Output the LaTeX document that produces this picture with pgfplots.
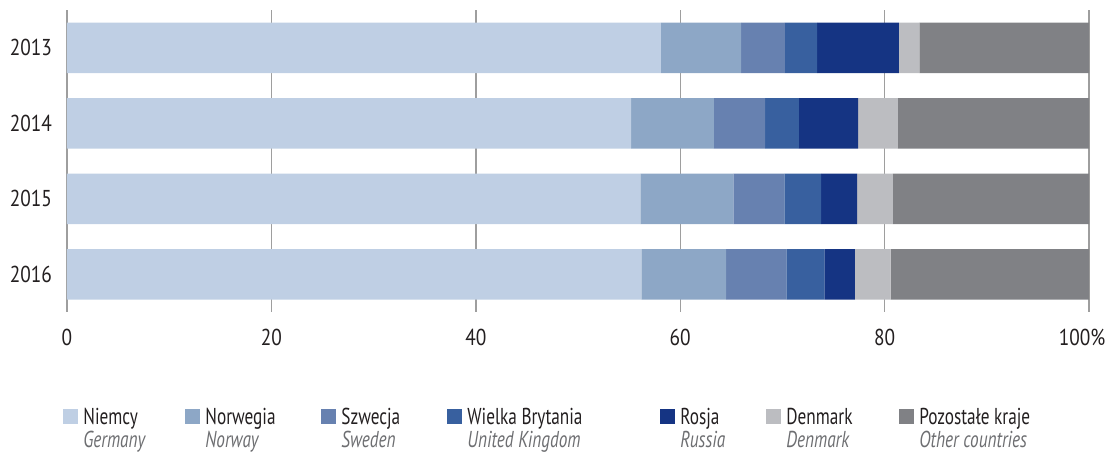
\documentclass[border=0pt]{standalone}
\usepackage{pgfplots}
\pgfplotsset{compat=1.18}
\usepackage{fontspec}
\setmainfont[FakeStretch=0.84]{PT Sans}
\newfontfamily\legfont[FakeStretch=0.75]{PT Sans}
\definecolor{c1}{HTML}{BFCFE4}
\definecolor{c2}{HTML}{8DA7C6}
\definecolor{c3}{HTML}{6781B0}
\definecolor{c4}{HTML}{38609F}
\definecolor{c5}{HTML}{153483}
\definecolor{c6}{HTML}{BCBDC1}
\definecolor{c7}{HTML}{808185}
\definecolor{txt}{HTML}{231F20}
\definecolor{sub}{HTML}{6D6E71}
\begin{document}
\begin{tikzpicture}
\useasboundingbox (0,0) rectangle (553.5pt,-226pt);
\begin{axis}[
  at={(33.5pt,-5pt)}, anchor=north west,
  scale only axis, width=511pt, height=151pt,
  xmin=0, xmax=100, ymin=-0.5, ymax=3.5, y dir=reverse,
  xbar stacked, bar width=25.25pt,
  axis line style={draw=none},
  major tick length=0pt,
  xtick={0,20,40,60,80,100},
  xticklabels={0,20,40,60,80,\hspace*{-7pt}100\%},
  ytick={0,1,2,3},
  yticklabels={2013,2014,2015,2016},
  xmajorgrids, ymajorgrids=false,
  major grid style={color=black!38, line width=0.7pt},
  tick label style={font=\fontsize{11.5}{13}\selectfont, text=txt},
  xticklabel style={yshift=-5pt},
  yticklabel style={xshift=-4pt},
  /pgf/number format/assume math mode=true,
  clip=false,
]
\addplot[fill=c1, draw=none] coordinates {(58.1,0) (55.2,1) (56.1,2) (56.2,3)};
\addplot[fill=c2, draw=none] coordinates {(7.85,0) (8.1,1) (9.1,2) (8.3,3)};
\addplot[fill=c3, draw=none] coordinates {(4.3,0) (5.0,1) (5.0,2) (5.9,3)};
\addplot[fill=c4, draw=none] coordinates {(3.15,0) (3.3,1) (3.6,2) (3.7,3)};
\addplot[fill=c5, draw=none] coordinates {(8.0,0) (5.8,1) (3.5,2) (3.0,3)};
\addplot[fill=c6, draw=none] coordinates {(2.0,0) (3.9,1) (3.5,2) (3.5,3)};
\addplot[fill=c7, draw=none] coordinates {(16.6,0) (18.7,1) (19.2,2) (19.4,3)};
\end{axis}
\begin{scope}[x=0.5pt,y=-0.5pt]
\foreach \xx/\col/\pl/\en in {63/c1/Niemcy/Germany, 185/c2/Norwegia/Norway, 321/c3/Szwecja/Sweden, 447/c4/Wielka Brytania/United Kingdom, 660/c5/Rosja/Russia, 766/c6/Denmark/Denmark, 899/c7/Pozostałe kraje/Other countries}{
  \fill[\col] (\xx,409) rectangle ++(15,15);
  \node[anchor=base west, inner sep=0pt, text=txt, font=\legfont\fontsize{11.5}{13}\selectfont] at (\xx+20,424) {\pl};
  \node[anchor=base west, inner sep=0pt, text=sub, font=\legfont\fontsize{11.5}{13}\selectfont\itshape] at (\xx+20,447) {\en};
}
\end{scope}
\end{tikzpicture}
\end{document}
